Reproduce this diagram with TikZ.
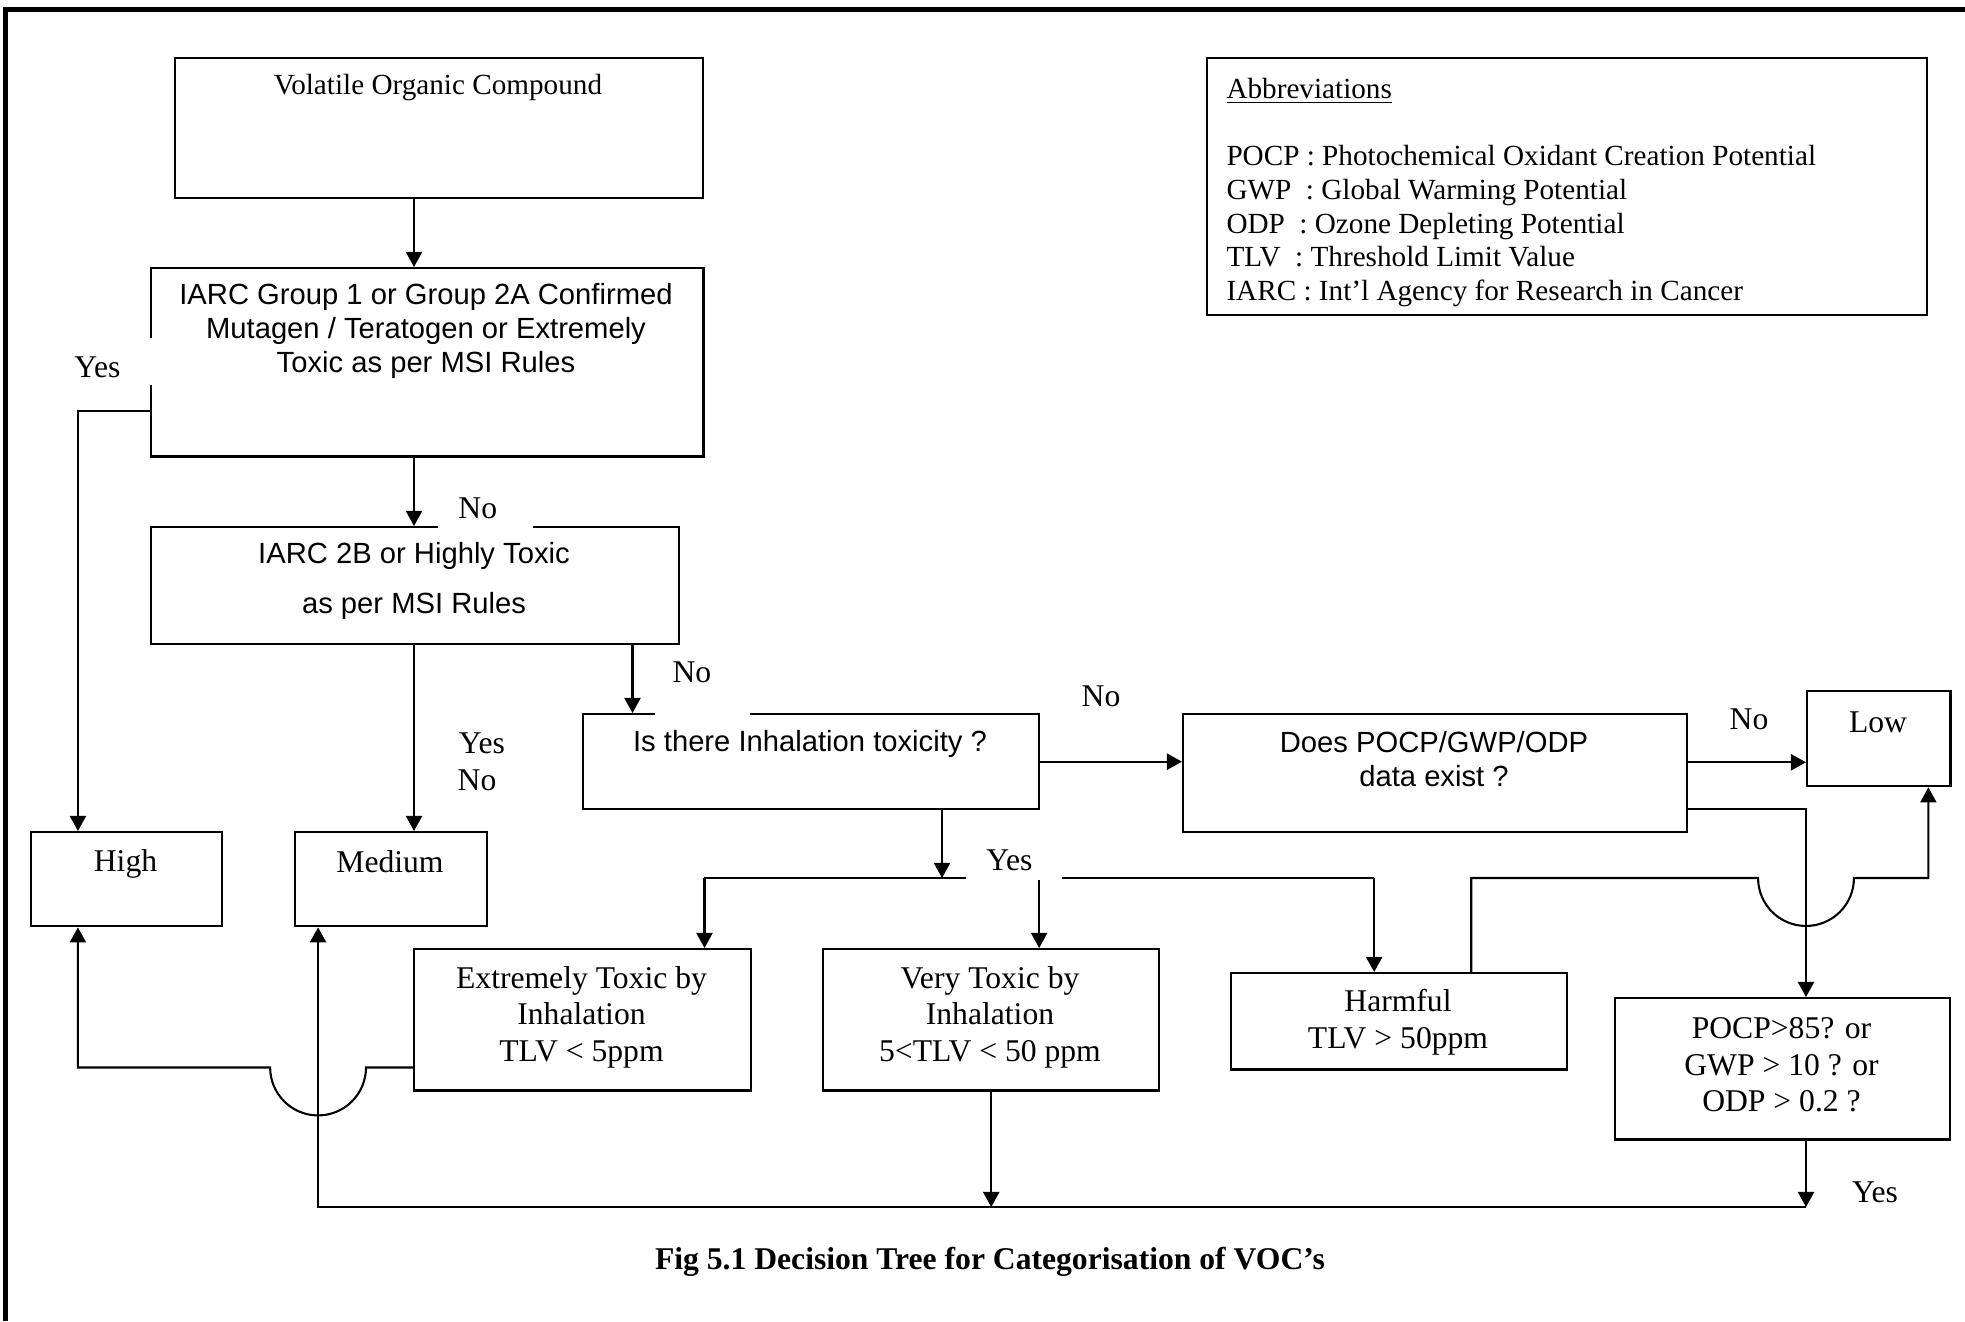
\documentclass[tikz,border=0pt]{standalone}
\usepackage{fontspec}
\setmainfont{Liberation Serif}
\newfontfamily\arialfont{Liberation Sans}
\usetikzlibrary{arrows.meta}

\begin{document}
\begin{tikzpicture}[
    x=0.411pt, y=-0.411pt,
    box/.style={draw, line width=1pt, rectangle, inner sep=0pt, anchor=north west},
    tnr/.style={inner sep=0pt, align=center, font=\fontsize{13}{15}\selectfont},
    tnrsmall/.style={inner sep=0pt, align=center, font=\fontsize{12}{13.8}\selectfont},
    arl/.style={inner sep=0pt, align=center, font=\arialfont\fontsize{12}{13.8}\selectfont},
    note/.style={inner sep=0pt, font=\fontsize{13}{15}\selectfont},
    gapnote/.style={note, fill=white, anchor=base west, align=left},
    arr/.style={-{Triangle[length=6.2pt, width=6.6pt]}, line width=0.85pt},
    wire/.style={line width=0.85pt},
    pageedge/.style={line width=1.9pt}
]
\useasboundingbox (0,0) rectangle (1965,1321);
% Page edge
\draw[pageedge] (5.5,1321) -- (5.5,9.7) -- (1965,9.7);
% Boxes
\node[box, minimum width=217pt, minimum height=57.5pt] (voc) at (174,57) {};
\node[box, minimum width=226.9pt, minimum height=77.3pt] (iarc1) at (150,267) {};
\node[box, minimum width=217pt, minimum height=48.1pt] (iarc2b) at (150,526) {};
\node[box, minimum width=187.4pt, minimum height=39pt] (inhal) at (582,713) {};
\node[box, minimum width=207.1pt, minimum height=48.5pt] (data) at (1182,713) {};
\node[box, minimum width=58.8pt, minimum height=39pt] (low) at (1806,690) {};
\node[box, minimum width=78.5pt, minimum height=38.6pt] (high) at (30,831) {};
\node[box, minimum width=78.9pt, minimum height=38.6pt] (medium) at (294,831) {};
\node[box, minimum width=138.5pt, minimum height=58pt] (ext) at (413,948) {};
\node[box, minimum width=138.1pt, minimum height=58pt] (very) at (822,948) {};
\node[box, minimum width=138.1pt, minimum height=39.5pt] (harm) at (1230,972) {};
\node[box, minimum width=137.7pt, minimum height=58pt] (pocp) at (1614,997) {};
\node[box, minimum width=295.9pt, minimum height=105.6pt] (abbr) at (1206,57) {};
% Box texts
\node[tnrsmall] (voct) at (438,88) {Volatile Organic Compound};
\node[arl] (iarc1t) at (426,331) {IARC Group 1 or Group 2A Confirmed\\Mutagen / Teratogen or Extremely\\Toxic as per MSI Rules};
\node[arl, font=\arialfont\fontsize{12}{20.5}\selectfont] (iarc2bt) at (414,581) {IARC 2B or Highly Toxic\\as per MSI Rules};
\node[arl] (inhalt) at (810,744) {Is there Inhalation toxicity ?};
\node[arl] (datat) at (1434,759) {Does POCP/GWP/ODP\\data exist ?};
\node[tnr] (lowt) at (1878,722) {Low};
\node[tnr] (hight) at (125.5,864) {High};
\node[tnr] (mediumt) at (390,862) {Medium};
\node[tnr] (extt) at (581.5,1017) {Extremely Toxic by\\Inhalation\\TLV < 5ppm};
\node[tnr] (veryt) at (990,1017) {Very Toxic by\\Inhalation\\5<TLV < 50 ppm};
\node[tnr] (harmt) at (1398,1022) {Harmful\\TLV > 50ppm};
\node[tnr] (pocpt) at (1781.5,1065) {POCP>85? or\\GWP > 10 ? or\\ODP > 0.2 ?};
\node[tnrsmall, align=left, anchor=north west] (abbrt) at (1226,78) {\underline{Abbreviations}\\[13.8pt]POCP : Photochemical Oxidant Creation Potential\\GWP\ \ : Global Warming Potential\\ODP\ \ : Ozone Depleting Potential\\TLV\ \ : Threshold Limit Value\\IARC : Int’l Agency for Research in Cancer};
\node[inner sep=0pt, font=\bfseries\fontsize{13}{15}\selectfont] (caption) at (990,1262) {Fig 5.1 Decision Tree for Categorisation of VOC’s};
% Helper coordinates
\coordinate (spine) at (414,0);
\coordinate (fork) at (942,878);
\coordinate (bottom) at (990,1207);
% Arrows
\draw[arr] (voc.south -| spine) -- (iarc1.north -| spine);
\draw[arr] (iarc1.south -| spine) -- (iarc2b.north -| spine);
\draw[arr] (iarc2b.south -| spine) -- (medium.north -| spine);
\draw[arr] ([yshift=19.3pt]iarc1.south west) -| ([xshift=19.7pt]high.north west);
\draw[arr] ([xshift=-19.7pt]iarc2b.south east) -- ([xshift=-19.7pt]iarc2b.south east |- inhal.north);
\draw[arr] (inhal.east) -- (inhal.east -| data.west);
\draw[arr] ([yshift=4.5pt]data.east) -- ([yshift=4.5pt]data.east -| low.west);
\draw[arr] ([yshift=9.9pt]data.south east) -| (low.south west |- pocp.north);
\draw[arr] (inhal.south -| fork) -- (fork);
\draw[wire] ([xshift=-19.7pt]ext.north east |- fork) -- ([xshift=-10.3pt]harm.north |- fork);
\draw[arr] ([xshift=-19.7pt]ext.north east |- fork) -- ([xshift=-19.7pt]ext.north east);
\draw[arr] ([xshift=19.7pt]very.north |- fork) -- ([xshift=19.7pt]very.north);
\draw[arr] ([xshift=-10.3pt]harm.north |- fork) -- ([xshift=-10.3pt]harm.north);
% Harmful goes to Low, jumping the POCP line
\draw[arr] ([xshift=29.6pt]harm.north) |- ([xshift=-19.7pt]low.south west |- fork)
    arc[start angle=180, end angle=360, radius=19.7pt] -| ([xshift=-9.5pt]low.south east);
% Extremely goes to High, jumping the Medium line
\draw[arr] ([yshift=9.9pt]ext.south west) -- ++(-47,0)
    arc[start angle=0, end angle=-180, radius=19.7pt] -| ([xshift=19.7pt]high.south west);
\draw[arr] (very.south) -- (very.south |- bottom);
\draw[arr] (pocp.south -| low.south west) -- (bottom -| low.south west);
\draw[arr] (bottom -| low.south west) -| ([xshift=9.9pt]medium.south west);
% Labels
\node[note] (yesmed) at (482,743) {Yes};
\node[note] (nomed) at (477,780) {No};
\node[note] (nodata) at (1101,696) {No};
\node[note] (nolow) at (1749,719) {No};
\node[note] (yespocp) at (1875,1192) {Yes};
\node[gapnote, inner xsep=5.75pt, text width=26.7pt, text height=16.2pt, text depth=3.1pt] (yesiarc) at (60,377.5) {Yes};
\node[gapnote, inner xsep=8.2pt, text width=22.6pt, text height=9.7pt, text depth=4.1pt] (noiarc) at (438,518.5) {No};
\node[gapnote, inner xsep=7pt, text width=24.7pt, text height=15pt, text depth=13.6pt] (noinhal) at (655,682.5) {No};
\node[gapnote, inner xsep=8.2pt, text width=23pt, text height=10.1pt, text depth=4.1pt] (yesfork) at (966,870.5) {Yes};
\end{tikzpicture}
\end{document}
